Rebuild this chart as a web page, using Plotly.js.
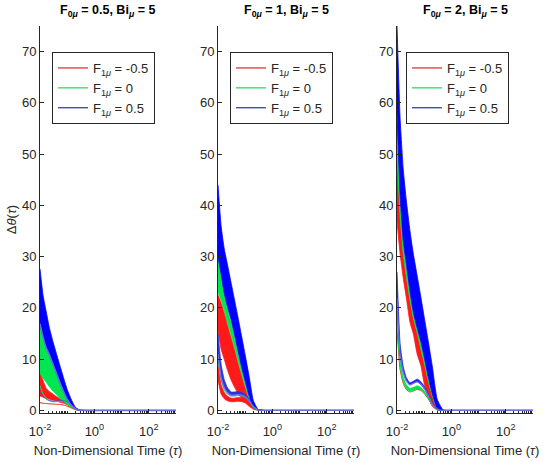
<!DOCTYPE html>
<html>
<head>
<meta charset="utf-8">
<script src="https://cdn.plot.ly/plotly-3.0.1.min.js"></script>
<style>html,body{margin:0;padding:0;background:#fff}</style>
</head>
<body>
<div id="chart" style="width:550px;height:462px"></div>
<script>
// ---- data ----
const tau = [0.01, 0.013, 0.017, 0.022, 0.03, 0.04, 0.055, 0.075, 0.1, 0.14, 0.2, 0.3, 0.5, 1, 10, 100, 1000];

const panelTitles = [
  "<b>F<sub>0<i>μ</i></sub> = 0.5, Bi<sub><i>μ</i></sub> = 5</b>",
  "<b>F<sub>0<i>μ</i></sub> = 1, Bi<sub><i>μ</i></sub> = 5</b>",
  "<b>F<sub>0<i>μ</i></sub> = 2, Bi<sub><i>μ</i></sub> = 5</b>"
];
const seriesNames = ["F<sub>1<i>μ</i></sub> = -0.5", "F<sub>1<i>μ</i></sub> = 0", "F<sub>1<i>μ</i></sub> = 0.5"];
const xTickVals = [0.01, 1, 100];
const xTickText = ["10<sup>-2</sup>", "10<sup>0</sup>", "10<sup>2</sup>"];
const yTickVals = [0, 10, 20, 30, 40, 50, 60, 70];

// Panel 1 (F0 = 0.5)
const p1RedLo    = [2.8, 2.6, 2.4, 2.2, 2.0, 1.8, 1.6, 1.4, 1.1, 0.6, 0.2, 0.02, 0, 0, 0, 0, 0];
const p1RedHi    = [7.5, 5.8, 4.3, 3.7, 3.2, 2.7, 2.3, 1.9, 1.5, 0.9, 0.3, 0.03, 0, 0, 0, 0, 0];
const p1GreenLo  = [7.2, 6.3, 5.5, 4.6, 3.8, 3.1, 2.3, 1.7, 1.2, 0.6, 0.2, 0.02, 0, 0, 0, 0, 0];
const p1GreenHi  = [16.9, 14.0, 11.9, 10.6, 8.7, 7.0, 5.1, 3.4, 2.1, 0.95, 0.28, 0.02, 0, 0, 0, 0, 0];
const p1BlueLo   = [16.9, 14.3, 12.2, 10.9, 9.0, 7.3, 5.3, 3.6, 2.2, 1.0, 0.3, 0.02, 0, 0, 0, 0, 0];
const p1BlueHi   = [27.6, 22.4, 19.2, 16.2, 13.4, 11.1, 8.6, 6.2, 4.1, 2.2, 0.6, 0.05, 0, 0, 0, 0, 0];
const p1RedLine  = [1.5, 1.4, 1.35, 1.3, 1.25, 1.2, 1.15, 1.05, 0.85, 0.5, 0.15, 0.02, 0, 0, 0, 0, 0];
const p1GreenLine= [4.8, 3.2, 2.4, 2.0, 1.7, 1.7, 1.8, 1.7, 1.5, 1.0, 0.35, 0.04, 0, 0, 0, 0, 0];
const p1BlueLine = [3.5, 2.7, 2.2, 1.9, 1.8, 1.9, 2.0, 1.9, 1.7, 1.2, 0.45, 0.06, 0, 0, 0, 0, 0];

// Panel 2 (F0 = 1)
const p2RedLo    = [15.5, 12, 10, 8.0, 6.0, 4.6, 3.3, 2.3, 1.5, 0.8, 0.25, 0.03, 0, 0, 0, 0, 0];
const p2RedHi    = [22.5, 21, 19, 16.8, 14.3, 12.0, 9.2, 6.6, 4.4, 2.1, 0.5, 0.06, 0, 0, 0, 0, 0];
const p2GreenLo  = [23, 21.5, 19.5, 17.3, 14.8, 12.5, 9.7, 7.0, 4.8, 2.3, 0.55, 0.07, 0, 0, 0, 0, 0];
const p2GreenHi  = [30, 26, 22.3, 19.8, 17.2, 14.3, 11.0, 7.9, 5.4, 2.6, 0.65, 0.08, 0, 0, 0, 0, 0];
const p2BlueLo   = [30, 26.5, 22.8, 20.3, 17.8, 14.9, 11.5, 8.3, 5.7, 2.8, 0.75, 0.1, 0, 0, 0, 0, 0];
const p2BlueHi   = [44, 36, 31.5, 28.6, 25, 21.7, 18, 14.3, 10.8, 6.6, 1.9, 0.2, 0, 0, 0, 0, 0];
const p2RedLowLo = [6, 3.2, 2.3, 1.9, 1.7, 1.7, 1.8, 1.7, 1.5, 1.1, 0.4, 0.05, 0, 0, 0, 0, 0];
const p2RedLowHi = [9, 5, 3.5, 2.8, 2.4, 2.4, 2.5, 2.4, 2.1, 1.5, 0.55, 0.08, 0, 0, 0, 0, 0];
const p2GreenLine= [10, 6, 4, 3.2, 2.8, 2.8, 2.9, 2.8, 2.5, 1.7, 0.65, 0.1, 0, 0, 0, 0, 0];
const p2BlueLowLo= [11, 6.5, 4.5, 3.5, 3.0, 3.0, 3.1, 3.0, 2.7, 1.9, 0.75, 0.12, 0, 0, 0, 0, 0];
const p2BlueLowHi= [15, 9, 6, 4.5, 3.6, 3.6, 3.7, 3.5, 3.1, 2.2, 0.9, 0.15, 0, 0, 0, 0, 0];

// Panel 3 (F0 = 2)
const p3RedLo    = [37, 30.5, 25.8, 22, 17.2, 14.9, 11.0, 8.8, 5.2, 2.6, 0.8, 0.1, 0, 0, 0, 0, 0];
const p3RedHi    = [50, 38, 30.5, 26.2, 21.5, 18.0, 15.2, 12.0, 9.2, 5.8, 2.8, 0.4, 0, 0, 0, 0, 0];
const p3GreenLo  = [50, 38, 30.5, 26.2, 21.5, 18.0, 15.2, 12.0, 9.2, 5.8, 2.8, 0.4, 0, 0, 0, 0, 0];
const p3GreenHi  = [56, 40, 32, 27.5, 22.5, 18.7, 15.8, 12.8, 9.9, 6.3, 3.0, 0.45, 0.01, 0, 0, 0, 0];
const p3BlueLo   = [58, 42, 33, 28.5, 23.2, 19.1, 16.1, 13.4, 10.4, 6.6, 3.2, 0.5, 0.02, 0, 0, 0, 0];
const p3BlueHi   = [75, 57, 47, 41, 35, 30.5, 26.3, 22.2, 18.2, 13.6, 8.5, 2.2, 0.1, 0, 0, 0, 0];
const p3RedLine    = [16, 8, 5.3, 4.1, 3.6, 3.8, 4.1, 3.9, 3.3, 2.3, 0.95, 0.14, 0, 0, 0, 0, 0];
const p3GreenLowLo = [18, 8.5, 5.6, 4.3, 3.8, 3.9, 4.2, 4.0, 3.4, 2.4, 1.0, 0.15, 0, 0, 0, 0, 0];
const p3GreenLowHi = [21, 10, 6.5, 5.0, 4.3, 4.5, 4.8, 4.5, 3.8, 2.7, 1.1, 0.18, 0, 0, 0, 0, 0];
const p3BlueLowLo  = [22, 11, 7.5, 5.8, 5.0, 5.3, 5.6, 5.1, 4.3, 3.0, 1.3, 0.2, 0.01, 0, 0, 0, 0];
const p3BlueLowHi  = [27, 13, 8.5, 6.4, 5.4, 5.7, 6.1, 5.6, 4.7, 3.3, 1.5, 0.25, 0.01, 0, 0, 0, 0];

// ---- styling ----
const RED = "#ff1a1a", GREEN = "#00e650", BLUE = "#0000ff", TAIL = "#6a72e0";
const LEG_COLORS = ["#d42828", "#18d858", "#28309a"];
const FONT = "Liberation Sans, Arial, Helvetica, sans-serif";
const INK = "#262626";

const traces = [];
function axName(ax, p) { return p + (ax === 1 ? "" : ax); }
function band(ax, lo, hi, color) {
  traces.push({x: tau, y: lo, xaxis: axName(ax, "x"), yaxis: axName(ax, "y"), type: "scatter", mode: "lines",
    line: {color: color, width: 0.8, shape: "spline", smoothing: 0.5}, showlegend: false, hoverinfo: "skip"});
  traces.push({x: tau, y: hi, xaxis: axName(ax, "x"), yaxis: axName(ax, "y"), type: "scatter", mode: "lines", fill: "tonexty",
    fillcolor: color, line: {color: color, width: 0.8, shape: "spline", smoothing: 0.5}, showlegend: false, hoverinfo: "skip"});
}
function line(ax, ys, color, width) {
  traces.push({x: tau, y: ys, xaxis: axName(ax, "x"), yaxis: axName(ax, "y"), type: "scatter", mode: "lines",
    line: {color: color, width: width || 1, shape: "spline", smoothing: 0.5}, showlegend: false, hoverinfo: "skip"});
}

// panel 1
band(1, p1RedLo, p1RedHi, RED);
line(1, p1RedLine, RED);
band(1, p1GreenLo, p1GreenHi, GREEN);
line(1, p1GreenLine, GREEN);
band(1, p1BlueLo, p1BlueHi, BLUE);
line(1, p1BlueLine, "#5050d0");
line(1, p1BlueLo, TAIL, 1.5);

// panel 2
band(2, p2RedLo, p2RedHi, RED);
band(2, p2RedLowLo, p2RedLowHi, RED);
band(2, p2GreenLo, p2GreenHi, GREEN);
line(2, p2GreenLine, "#20c0a0");
band(2, p2BlueLo, p2BlueHi, BLUE);
band(2, p2BlueLowLo, p2BlueLowHi, "#3030e0");
line(2, p2BlueLowLo, TAIL, 1.2);

// panel 3
band(3, p3RedLo, p3RedHi, RED);
line(3, p3RedLine, RED);
band(3, p3GreenLo, p3GreenHi, GREEN);
band(3, p3GreenLowLo, p3GreenLowHi, GREEN);
band(3, p3BlueLo, p3BlueHi, BLUE);
band(3, p3BlueLowLo, p3BlueLowHi, "#2020f0");
line(3, p3BlueLowLo, TAIL, 1.2);

// legend entries (one legend per panel)
[1, 2, 3].forEach(ax => {
  seriesNames.forEach((nm, k) => {
    traces.push({x: [null], y: [null], xaxis: axName(ax, "x"), yaxis: axName(ax, "y"),
      type: "scatter", mode: "lines", name: nm, line: {color: LEG_COLORS[k], width: 1.2},
      legend: axName(ax, "legend"), showlegend: true, hoverinfo: "skip"});
  });
});

const W = 550, H = 462;
const yDom = [1 - 413 / H, 1 - 26 / H];
const xDoms = [[40 / W, 176 / W], [218 / W, 354 / W], [397 / W, 533 / W]];

function xAxis(i) {
  return {
    type: "log", range: [-2, 3], domain: xDoms[i], anchor: i === 0 ? "y" : "y" + (i + 1),
    showline: true, linecolor: INK, linewidth: 1, mirror: false,
    ticks: "inside", ticklen: 4, tickcolor: INK, tickwidth: 1,
    tickmode: "array", tickvals: xTickVals, ticktext: xTickText,
    tickfont: {family: FONT, size: 13, color: INK}, ticklabelstandoff: 6,
    minor: {ticks: "inside", ticklen: 2, tickcolor: INK, dtick: "D1", showgrid: false},
    showgrid: false, zeroline: false, automargin: false,
    title: {text: "Non-Dimensional Time (<i>τ</i>)", font: {family: FONT, size: 13, color: INK}, standoff: 8}
  };
}
function yAxis(i) {
  const a = {
    range: [-0.5, 75], domain: yDom, anchor: i === 0 ? "x" : "x" + (i + 1),
    showline: true, linecolor: INK, linewidth: 1, mirror: false,
    ticks: "inside", ticklen: 4, tickcolor: INK, tickwidth: 1,
    tickmode: "array", tickvals: yTickVals,
    tickfont: {family: FONT, size: 13, color: INK},
    showgrid: false, zeroline: false, automargin: false
  };
  if (i === 0) a.title = {text: "Δ<i>θ</i>(<i>τ</i>)", font: {family: FONT, size: 13, color: INK}, standoff: 2};
  return a;
}

function legendAt(pxLeft) {
  return {
    x: pxLeft / W, y: 1 - 52 / H, xanchor: "left", yanchor: "top", traceorder: "normal",
    bgcolor: "#ffffff", bordercolor: INK, borderwidth: 1,
    font: {family: FONT, size: 13, color: INK}, tracegroupgap: 0
  };
}

const centers = [107, 286, 465];
const annotations = panelTitles.map((t, i) => ({
  text: t, xref: "paper", yref: "paper", x: centers[i] / W, y: 1 - 1 / H,
  xanchor: "center", yanchor: "top", showarrow: false,
  font: {family: FONT, size: 12.5, color: "#000"}
}));

const layout = {
  width: W, height: H, margin: {l: 0, r: 0, t: 0, b: 0},
  paper_bgcolor: "#fff", plot_bgcolor: "#fff",
  font: {family: FONT, color: INK},
  xaxis: xAxis(0), xaxis2: xAxis(1), xaxis3: xAxis(2),
  yaxis: yAxis(0), yaxis2: yAxis(1), yaxis3: yAxis(2),
  legend: legendAt(52), legend2: legendAt(230), legend3: legendAt(406),
  annotations: annotations,
  showlegend: true
};

Plotly.newPlot("chart", traces, layout, {staticPlot: true, displayModeBar: false});
</script>
</body>
</html>
